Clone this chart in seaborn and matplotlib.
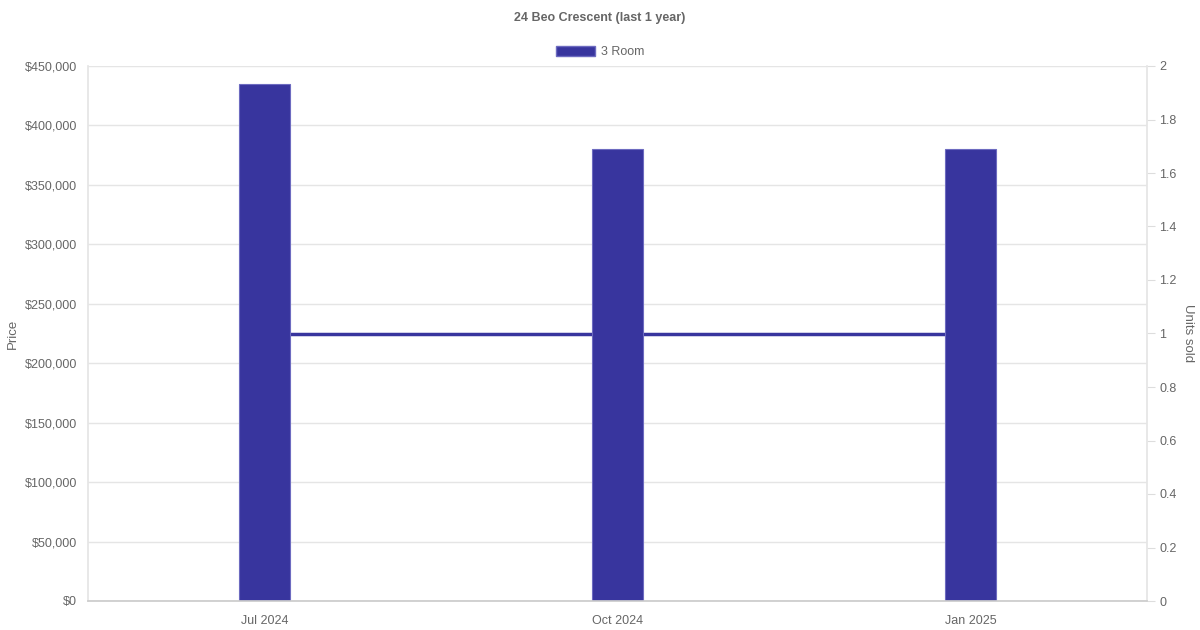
import matplotlib
matplotlib.use("Agg")
import matplotlib.pyplot as plt
import matplotlib.ticker as mticker
from matplotlib.patches import Patch
import pandas as pd
import seaborn as sns

months = ["Jul 2024", "Oct 2024", "Jan 2025"]
avg_price = [435000, 380000, 380000]
units_sold = [1, 1, 1]
series_name = "3 Room"

BAR_COLOR = "#38359e"
TEXT = "#666666"
GRID = "#e5e5e5"

sns.set_theme(style="white")
plt.rcParams["font.family"] = ["Liberation Sans", "DejaVu Sans"]

df = pd.DataFrame({"Month": months, "Price": avg_price, "Units": units_sold})

fig = plt.figure(figsize=(12, 6.3), dpi=100)
ax = fig.add_axes([88 / 1200, 29 / 630, (1147 - 88) / 1200, (601 - 66) / 630])
ax2 = ax.twinx()

# units sold line sits behind the bars
ax2.plot(range(len(months)), df["Units"], color=BAR_COLOR, linewidth=2.5)
ax2.set_ylim(0, 2)
ax2.yaxis.set_major_locator(mticker.MultipleLocator(0.2))
ax2.yaxis.set_major_formatter(mticker.FuncFormatter(lambda v, p: f"{v:g}"))
ax2.set_ylabel("Units sold", color=TEXT, fontsize=9.5, rotation=270, labelpad=12)
ax2.tick_params(axis="y", colors=TEXT, labelsize=9, length=6, width=0.8, color="#dddddd", pad=3)
for s in ax2.spines.values():
    s.set_visible(False)

ax.set_zorder(ax2.get_zorder() + 1)
ax.patch.set_visible(False)

sns.barplot(data=df, x="Month", y="Price", ax=ax, color=BAR_COLOR, width=0.142,
            saturation=1, edgecolor="#6d6bc0", linewidth=0.8)
ax.set_xlim(-0.5, len(months) - 0.5)
ax.set_ylim(0, 450000)
ax.yaxis.set_major_locator(mticker.MultipleLocator(50000))
ax.yaxis.set_major_formatter(mticker.FuncFormatter(lambda v, p: f"${v:,.0f}"))
ax.set_axisbelow(True)
ax.grid(axis="y", color=GRID, linewidth=1)
ax.grid(axis="x", visible=False)
ax.set_xlabel("")
ax.set_ylabel("Price", color=TEXT, fontsize=9.5, labelpad=4)
ax.tick_params(axis="y", colors=TEXT, labelsize=9, length=0, pad=8)
ax.tick_params(axis="x", colors=TEXT, labelsize=9, length=0, pad=10)
for side in ["left", "right", "top"]:
    ax.spines[side].set_color(GRID)
ax.spines["top"].set_visible(False)
ax.spines["bottom"].set_color("#cccccc")

fig.legend(handles=[Patch(facecolor=BAR_COLOR, edgecolor="#6d6bc0", label=series_name)],
           loc="center", bbox_to_anchor=(0.5, 1 - 52 / 630), frameon=False, fontsize=9,
           labelcolor=TEXT, handlelength=3.1, handleheight=0.9, handletextpad=0.5,
           borderaxespad=0)

fig.suptitle("24 Beo Crescent (last 1 year)", x=600 / 1200, y=1 - 12 / 630, va="top",
             fontsize=9, fontweight="bold", color=TEXT)

fig.savefig("out.png", dpi=100)
